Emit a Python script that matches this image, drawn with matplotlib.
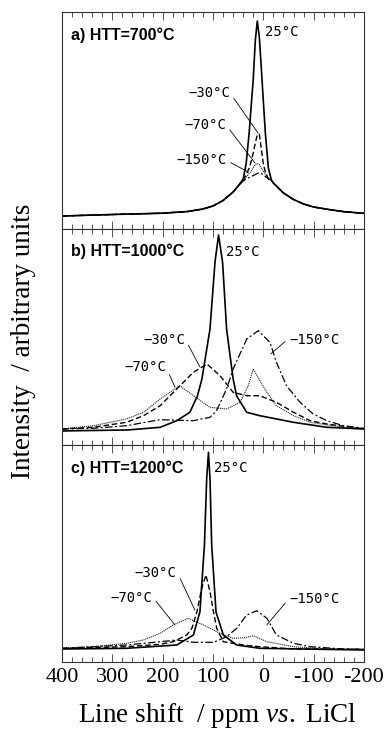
import matplotlib
matplotlib.use("Agg")
import matplotlib.pyplot as plt
from matplotlib.ticker import MultipleLocator

plt.rcParams['axes.unicode_minus'] = False
plt.rcParams['mathtext.fontset'] = 'custom'
plt.rcParams['mathtext.rm'] = 'Liberation Serif'
plt.rcParams['mathtext.it'] = 'Liberation Serif:italic'

# ---- data (shift in ppm, intensity in arbitrary units) ----
# a) HTT = 700 C, one common shift grid
shift_a = [400, 300, 200, 150, 120, 100, 80, 60, 50, 40, 34, 28, 24, 20, 16, 12,
           8, 4, 0, -4, -10, -16, -20, -30, -40, -60, -80, -100, -130, -160, -200]
a_25 = [13, 14.5, 15.8, 17.5, 20, 23, 28.5, 37, 43, 50, 66, 97, 124, 150, 188, 208,
        192, 161, 128, 96, 61, 49, 46, 41, 36, 29.5, 25, 22, 19.5, 17.3, 15.7]
a_m30 = [13, 14.5, 15.8, 17.5, 20, 23, 28.5, 37, 43, 49, 54, 61, 68, 76, 86, 94,
         95, 80, 65, 57, 50, 48.5, 46, 41, 36, 29.5, 25, 22, 19.5, 17.3, 15.7]
a_m70 = [13, 14.5, 15.8, 17.5, 20, 23, 28.5, 37, 43, 48.5, 52, 55.5, 58, 61, 64.5, 65.5,
         64.5, 61, 58, 55, 51, 48.5, 46, 41, 36, 29.5, 25, 22, 19.5, 17.3, 15.7]
a_m150 = [13, 14.5, 15.8, 17.5, 20, 23, 28.5, 37, 43, 48, 50, 51.5, 52.5, 53.5, 54.5, 55.5,
          56, 55.5, 54, 52.5, 50.5, 48.5, 46, 41, 36, 29.5, 25, 22, 19.5, 17.3, 15.7]

# b) HTT = 1000 C
b_25_x = [400, 370, 270, 205, 172, 146, 131, 122, 106, 96, 89, 81, 73, 60, 53, 33, 7, -60, -126, -200]
b_25_y = [14, 14.3, 15, 17.7, 24.3, 32.7, 49, 66, 116, 183, 210, 183, 116, 66, 49, 32.7, 29.3, 22.7, 17.7, 16]
b_m30_x = [400, 338, 272, 238, 205, 172, 139, 112, 86, 60, 33, 7, -26, -60, -93, -126, -192, -200]
b_m30_y = [16, 17.7, 22.7, 29.3, 39.3, 56, 72.7, 81, 69.3, 52.7, 49.3, 49.3, 42.7, 32.7, 24.3, 21, 16.7, 16.5]
b_m70_x = [400, 338, 272, 238, 205, 166, 139, 106, 73, 46, 30, 20, 7, -7, -26, -60, -93, -159, -200]
b_m70_y = [16, 19.3, 26, 32.7, 46, 59.3, 49.3, 37.7, 36, 42.7, 59.3, 76, 64.3, 52.7, 39.3, 29.3, 22.7, 17.7, 16]
b_m150_x = [400, 338, 272, 205, 139, 106, 93, 73, 60, 33, 10, -13, -26, -46, -73, -99, -126, -159, -200]
b_m150_y = [16, 16.7, 19.3, 25.3, 24.3, 27.7, 34.3, 56, 76, 106, 114.3, 102.7, 82.7, 59.3, 42.7, 31, 24.3, 19.3, 16.7]

# c) HTT = 1200 C
c_25_x = [400, 272, 172, 139, 126, 117, 112.5, 109, 106, 102.6, 94, 79.5, 53, 7, -200]
c_25_y = [13, 13.7, 17, 27, 50, 117, 183.7, 209.7, 183.7, 117, 50, 27, 17, 13.7, 12]
c_m30_x = [400, 272, 205, 179, 152, 142, 132, 122.5, 114, 106, 99, 92.6, 79.5, 40, 7, -60, -200]
c_m30_y = [13.7, 15.3, 17.7, 20.3, 27, 33.7, 50, 73.7, 87, 70.3, 50, 33.7, 20.3, 17, 15.3, 13, 12.7]
c_m70_x = [400, 338, 272, 238, 205, 179, 149, 119, 86, 60, 36, 20, -7, -60, -126, -200]
c_m70_y = [13.7, 15.3, 18.7, 22, 28.7, 37, 43.7, 37, 28.7, 23.7, 24.3, 26.3, 20.3, 15.3, 13, 12.7]
c_m150_x = [400, 272, 205, 172, 139, 99, 73, 53, 33, 13, -7, -26, -60, -93, -159, -200]
c_m150_y = [13.7, 17, 20.3, 22, 19.7, 19.7, 25.3, 33.7, 47, 51.3, 43.7, 27, 18.7, 15.3, 13, 12.7]

panel_titles = ["a) HTT=700°C", "b) HTT=1000°C", "c) HTT=1200°C"]
tick_vals = [400, 300, 200, 100, 0, -100, -200]

styles = {
    "25": dict(color="black", lw=1.2, ls="-"),
    "m30": dict(color="black", lw=1.0, ls=(0, (4, 2))),
    "m70": dict(color="#222222", lw=0.8, ls=(0, (1, 0.8))),
    "m150": dict(color="black", lw=0.9, ls=(0, (6, 2, 1.5, 2))),
}

fig = plt.figure(figsize=(3.87, 7.33), dpi=100)
W, H = 387.0, 733.0
left, width = 62 / W, 302 / W
rects = [(12, 229), (229, 445), (445, 662)]
axes = []
for top, bot in rects:
    ax = fig.add_axes([left, 1 - bot / H, width, (bot - top) / H])
    ax.set_xlim(400, -200)
    ax.set_ylim(0, bot - top)
    ax.xaxis.set_major_locator(MultipleLocator(100))
    ax.xaxis.set_minor_locator(MultipleLocator(20))
    ax.tick_params(axis="x", which="both", direction="in", top=True, bottom=True,
                   labelbottom=False, color="#555555", width=0.7)
    ax.tick_params(axis="x", which="major", length=6)
    ax.tick_params(axis="x", which="minor", length=3.5)
    ax.set_yticks([])
    for sp in ax.spines.values():
        sp.set_linewidth(0.8)
        sp.set_color("#333333")
    axes.append(ax)

ax_a, ax_b, ax_c = axes

ax_a.plot(shift_a, a_m150, **styles["m150"])
ax_a.plot(shift_a, a_m70, **styles["m70"])
ax_a.plot(shift_a, a_m30, **styles["m30"])
ax_a.plot(shift_a, a_25, **styles["25"])

ax_b.plot(b_m150_x, b_m150_y, **styles["m150"])
ax_b.plot(b_m70_x, b_m70_y, **styles["m70"])
ax_b.plot(b_m30_x, b_m30_y, **styles["m30"])
ax_b.plot(b_25_x, b_25_y, **styles["25"])

ax_c.plot(c_m150_x, c_m150_y, **styles["m150"])
ax_c.plot(c_m70_x, c_m70_y, **styles["m70"])
ax_c.plot(c_m30_x, c_m30_y, **styles["m30"])
ax_c.plot(c_25_x, c_25_y, **styles["25"])

for ax, t in zip(axes, panel_titles):
    ax.text(0.03, 0.873, t, transform=ax.transAxes, ha="left", va="baseline",
            fontsize=11.5, fontweight="bold", family="Liberation Sans")

lab = dict(fontsize=10, family="DejaVu Sans Mono", va="center")


def tlabel(ax, s, xytext, ha, xy=None, rel=(1, 0.5)):
    if xy is None:
        ax.text(xytext[0], xytext[1], s, ha=ha, **lab)
    else:
        ax.annotate(s, xy=xy, xytext=xytext, ha=ha, **lab,
                    arrowprops=dict(arrowstyle="-", lw=0.6, color="black",
                                    shrinkA=1, shrinkB=0, relpos=rel))


tlabel(ax_a, "25°C", (-3, 197.5), "left")
tlabel(ax_a, "−30°C", (66, 136), "right", xy=(10.6, 96))
tlabel(ax_a, "−70°C", (74, 104), "right", xy=(16.5, 66))
tlabel(ax_a, "−150°C", (73, 68.5), "right", xy=(30, 57))

tlabel(ax_b, "25°C", (75, 192.7), "left")
tlabel(ax_b, "−30°C", (155.6, 105), "right", xy=(126, 78), rel=(1, 0.6))
tlabel(ax_b, "−70°C", (193.4, 78), "right", xy=(175.5, 57.7), rel=(1, 0.5))
tlabel(ax_b, "−150°C", (-51, 105.3), "left", xy=(-14.6, 91), rel=(0, 0.6))

tlabel(ax_c, "25°C", (98, 194), "left")
tlabel(ax_c, "−30°C", (172, 89.3), "right", xy=(136, 52), rel=(1, 0.6))
tlabel(ax_c, "−70°C", (220.6, 64), "right", xy=(175.5, 37), rel=(1, 0.6))
tlabel(ax_c, "−150°C", (-51, 63.3), "left", xy=(-6.7, 37), rel=(0, 0.5))

ax_c.set_xticks(tick_vals)
ax_c.set_xticklabels([str(v) for v in tick_vals], fontsize=16, family="Liberation Serif")
ax_c.tick_params(axis="x", which="major", labelbottom=True, pad=4)

fig.text(217 / W, 1 - 722 / H, "Line shift  / ppm $\\mathit{vs.}$ LiCl", ha="center",
         va="baseline", fontsize=19.5, family="Liberation Serif")
fig.text(24 / W, 1 - 341 / H, "Intensity  / arbitrary units", rotation=90, ha="center",
         va="center", fontsize=19.5, family="Liberation Serif")

fig.savefig("out.png", dpi=100)
